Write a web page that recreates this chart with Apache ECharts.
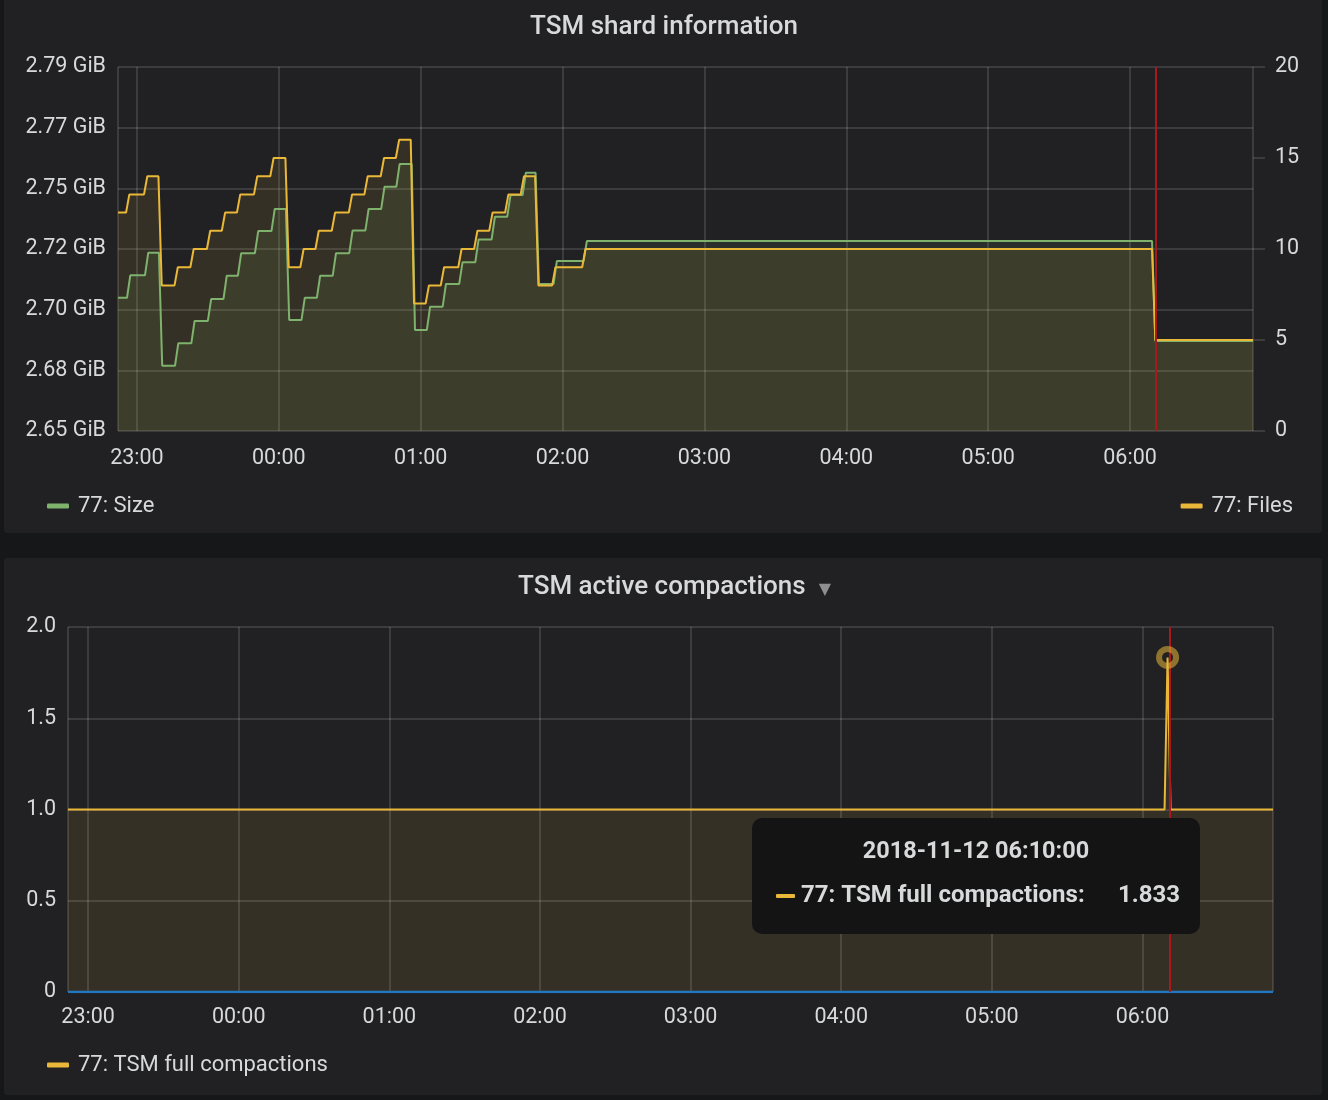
<!DOCTYPE html>
<html>
<head>
<meta charset="utf-8">
<title>TSM</title>
<script src="https://cdn.jsdelivr.net/npm/echarts@6/dist/echarts.min.js"></script>
<style>
  html, body { margin: 0; padding: 0; background: #161719; }
  .panel { position: absolute; left: 4px; width: 1318px; background: #212124; border-radius: 3px; }
  #p1 { top: -6px; height: 539px; }
  #p2 { top: 558px; height: 537px; }
  #main { position: absolute; left: 0; top: 0; width: 1328px; height: 1100px; }
</style>
</head>
<body>
<div class="panel" id="p1"></div>
<div class="panel" id="p2"></div>
<div id="main"></div>
<script>
// time range: 2018-11-11 22:52 -> 2018-11-12 06:52, minutes from start
var start = new Date(2018, 10, 11, 22, 52, 0).getTime(),
    span = 480,
    cursorMin = 438.75;

// 77: Size (GiB) - level changes
var sizeChanges = [3.8, 11.4, 17.3, 24.1, 31.0, 38.0, 44.6, 50.7, 57.9, 64.9, 71.0, 77.6, 84.1, 90.8, 97.8,
    104.6, 111.3, 117.7, 124.2, 130.6, 137.3, 144.3, 151.1, 158.0, 164.6, 171.1, 176.6, 184.2, 196.9, 437.3];
var sizeLevels = [2.7054, 2.7140, 2.7227, 2.6793, 2.6879, 2.6965, 2.7049, 2.7139, 2.7225, 2.7310, 2.7395,
    2.6969, 2.7054, 2.7139, 2.7225, 2.7312, 2.7395, 2.7480, 2.7567, 2.6930, 2.7020, 2.7107, 2.7190,
    2.7278, 2.7365, 2.7448, 2.7534, 2.7107, 2.7195, 2.7272, 2.6888];

// 77: Files - level changes
var filesChanges = [3.4, 11.0, 17.1, 23.9, 30.6, 37.6, 43.9, 50.3, 57.5, 64.4, 70.8, 77.1, 83.5, 90.4, 97.6,
    104.2, 111.1, 117.5, 123.8, 130.1, 136.5, 143.9, 150.6, 157.0, 163.7, 170.3, 176.4, 183.6, 196.3, 437.3];
var filesLevels = [12, 13, 14, 8, 9, 10, 11, 12, 13, 14, 15, 9, 10, 11, 12, 13, 14, 15, 16, 7, 8, 9, 10,
    11, 12, 13, 14, 8, 9, 10, 5];

// 77: TSM full compactions
var compTimes = [0, 436.8, 438, 439.2, 480];
var compValues = [1, 1, 1.833, 1, 1];
var zeroTimes = [0, 480];
var zeroValues = [0, 0];

var GIB = 1073741824,
    ramp = 1.4,
    textColor = '#d8d9da',
    gridColor = 'rgba(255,255,255,0.17)',
    green = '#7eb26d',
    yellow = '#eab839',
    blue = '#1f78c1',
    red = '#a8181c';

function ts(m) { return start + m * 60000; }
function pad(n) { return (n < 10 ? '0' : '') + n; }
function hhmm(v) { var d = new Date(v); return pad(d.getHours()) + ':' + pad(d.getMinutes()); }

function steps(changes, levels, scale) {
    var pts = [[ts(0), levels[0] * scale]];
    for (var i = 0; i < changes.length; i++) {
        pts.push([ts(changes[i]), levels[i] * scale]);
        pts.push([ts(changes[i] + ramp), levels[i + 1] * scale]);
    }
    pts.push([ts(span), levels[levels.length - 1] * scale]);
    return pts;
}
function pairs(times, values) {
    return times.map(function (t, i) { return [ts(t), values[i]]; });
}

var spikeIdx = compValues.indexOf(Math.max.apply(null, compValues)),
    spikeDate = new Date(ts(compTimes[spikeIdx])),
    spikeLabel = spikeDate.getFullYear() + '-' + pad(spikeDate.getMonth() + 1) + '-' + pad(spikeDate.getDate()) +
        ' ' + hhmm(spikeDate.getTime()) + ':00';

var myChart = echarts.init(document.getElementById('main'));

function timeAxis(grid, margin) {
    return {
        type: 'time', gridIndex: grid, min: ts(0), max: ts(span),
        minInterval: 3600000, maxInterval: 3600000,
        axisLine: {show: false}, axisTick: {show: false},
        axisLabel: {color: textColor, fontSize: 21.5, fontFamily: 'Roboto', margin: margin, formatter: hhmm, hideOverlap: false},
        splitLine: {show: true, lineStyle: {color: gridColor, width: 1.5}}
    };
}

var option = {
    backgroundColor: 'transparent',
    animation: false,
    textStyle: {fontFamily: 'Roboto'},
    title: [{
        text: 'TSM shard information', left: 'center', top: 9,
        textStyle: {color: textColor, fontSize: 26, fontWeight: 500, fontFamily: 'Roboto'}
    }, {
        text: '{t|TSM active compactions}{c|▼}', left: 513, top: 569,
        textStyle: {
            rich: {
                t: {color: textColor, fontSize: 26, fontWeight: 500, fontFamily: 'Roboto'},
                c: {color: '#8e8e8e', fontSize: 16, fontFamily: 'DejaVu Sans', padding: [5, 0, 0, 13]}
            }
        }
    }],
    legend: [{
        data: ['77: Size'], left: 42, top: 490, icon: 'roundRect', itemWidth: 22, itemHeight: 5,
        textStyle: {color: textColor, fontSize: 22, padding: [0, 0, 0, 4]}
    }, {
        data: ['77: Files'], right: 30, top: 490, icon: 'roundRect', itemWidth: 22, itemHeight: 5,
        textStyle: {color: textColor, fontSize: 22, padding: [0, 0, 0, 4]}
    }, {
        data: ['77: TSM full compactions'], left: 42, top: 1049, icon: 'roundRect', itemWidth: 22, itemHeight: 5,
        textStyle: {color: textColor, fontSize: 22, padding: [0, 0, 0, 4]}
    }],
    grid: [
        {left: 118, top: 67, width: 1135, height: 364},
        {left: 68, top: 627, width: 1205, height: 365}
    ],
    xAxis: [timeAxis(0, 17), timeAxis(1, 15)],
    yAxis: [{
        type: 'value', gridIndex: 0, position: 'left', min: 2.85e9, max: 3.0e9, interval: 25e6,
        axisLine: {show: false}, axisTick: {show: false},
        axisLabel: {color: textColor, fontSize: 21.5, margin: 12, padding: [5, 0, 0, 0],
            formatter: function (v) { return (v / GIB).toFixed(2) + ' GiB'; }},
        splitLine: {show: true, lineStyle: {color: gridColor, width: 1.5}}
    }, {
        type: 'value', gridIndex: 0, position: 'right', min: 0, max: 20, interval: 5,
        axisLine: {show: false},
        axisTick: {show: true, length: 12, lineStyle: {color: gridColor, width: 1.5}},
        axisLabel: {color: textColor, fontSize: 21.5, margin: 22, padding: [5, 0, 0, 0]},
        splitLine: {show: false}
    }, {
        type: 'value', gridIndex: 1, min: 0, max: 2, interval: 0.5,
        axisLine: {show: false}, axisTick: {show: false},
        axisLabel: {color: textColor, fontSize: 21.5, margin: 12, padding: [4, 0, 0, 0],
            formatter: function (v) { return v === 0 ? '0' : v.toFixed(1); }},
        splitLine: {show: true, lineStyle: {color: gridColor, width: 1.5}}
    }],
    series: [{
        name: '77: Size', type: 'line', xAxisIndex: 0, yAxisIndex: 0,
        data: steps(sizeChanges, sizeLevels, GIB),
        showSymbol: false, color: green, lineStyle: {width: 2, color: green},
        areaStyle: {color: green, opacity: 0.1}
    }, {
        name: '77: Files', type: 'line', xAxisIndex: 0, yAxisIndex: 1,
        data: steps(filesChanges, filesLevels, 1),
        showSymbol: false, color: yellow, lineStyle: {width: 2, color: yellow},
        areaStyle: {color: yellow, opacity: 0.1},
        markLine: {
            silent: true, symbol: 'none', label: {show: false},
            lineStyle: {color: red, width: 2, type: 'solid'},
            data: [{xAxis: ts(cursorMin)}]
        }
    }, {
        name: '77: TSM full compactions', type: 'line', xAxisIndex: 1, yAxisIndex: 2,
        data: pairs(compTimes, compValues),
        showSymbol: false, color: yellow, lineStyle: {width: 2, color: yellow},
        areaStyle: {color: yellow, opacity: 0.1},
        markLine: {
            silent: true, symbol: 'none', label: {show: false},
            lineStyle: {color: red, width: 2, type: 'solid'},
            data: [{xAxis: ts(cursorMin)}]
        },
        markPoint: {
            silent: true, symbol: 'circle', symbolSize: 17, label: {show: false},
            itemStyle: {color: 'rgba(0,0,0,0)', borderColor: 'rgba(234,184,57,0.55)', borderWidth: 6},
            data: [{coord: [ts(compTimes[spikeIdx]), compValues[spikeIdx]]}]
        }
    }, {
        name: 'zero', type: 'line', xAxisIndex: 1, yAxisIndex: 2,
        data: pairs(zeroTimes, zeroValues),
        showSymbol: false, color: blue, lineStyle: {width: 2.5, color: blue}
    }],
    graphic: [{
        type: 'rect', z: 200, zlevel: 1, shape: {x: 752, y: 818, width: 448, height: 116, r: 10},
        style: {fill: '#141414'}
    }, {
        type: 'text', z: 201, zlevel: 1, style: {
            text: spikeLabel, x: 976, y: 852, textAlign: 'center', textVerticalAlign: 'middle',
            fill: textColor, font: 'bold 23.5px Roboto'
        }
    }, {
        type: 'rect', z: 201, zlevel: 1, shape: {x: 776, y: 894, width: 19, height: 4, r: 1},
        style: {fill: yellow}
    }, {
        type: 'text', z: 201, zlevel: 1, style: {
            text: '77: TSM full compactions:', x: 801, y: 896, textAlign: 'left', textVerticalAlign: 'middle',
            fill: textColor, font: 'bold 24px Roboto'
        }
    }, {
        type: 'text', z: 201, zlevel: 1, style: {
            text: compValues[spikeIdx].toFixed(3), x: 1180, y: 896, textAlign: 'right', textVerticalAlign: 'middle',
            fill: textColor, font: 'bold 24px Roboto'
        }
    }]
};

myChart.setOption(option);
</script>
</body>
</html>
